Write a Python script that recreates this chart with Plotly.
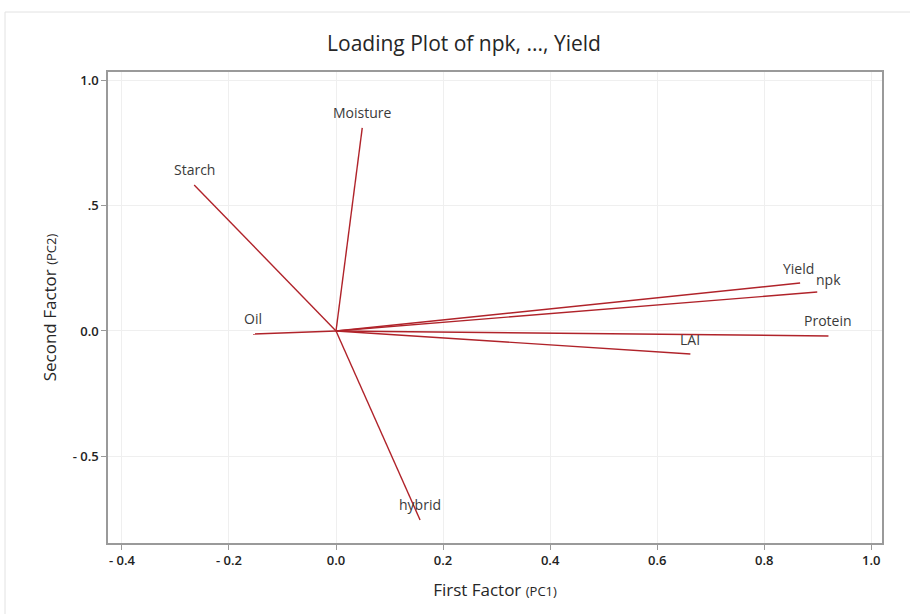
import plotly.graph_objects as go

variables = ["npk", "hybrid", "Moisture", "Oil", "Protein", "Starch", "LAI", "Yield"]
pc1 = [0.899, 0.157, 0.049, -0.155, 0.920, -0.265, 0.662, 0.867]
pc2 = [0.155, -0.753, 0.809, -0.012, -0.020, 0.582, -0.092, 0.191]
label_dx = [11, 0, 0, 0, 0, 0, 0, -2]
label_dy = [13, 15, 15, 15, 15, 15, 15, 15]

x_tickvals = [-0.4, -0.2, 0.0, 0.2, 0.4, 0.6, 0.8, 1.0]
x_ticktext = ["- 0.4", "- 0.2", "0.0", "0.2", "0.4", "0.6", "0.8", "1.0"]
y_tickvals = [-0.5, 0.0, 0.5, 1.0]
y_ticktext = ["- 0.5", "0.0", ".5", "1.0"]

W, H = 910, 614
L, R, T, B = 108, 882, 72, 543
line_color = "#b0232a"

fig = go.Figure()
for name, x, y in zip(variables, pc1, pc2):
    fig.add_trace(go.Scatter(x=[0, x], y=[0, y], mode="lines",
                             line=dict(color=line_color, width=1.4),
                             hoverinfo="skip", showlegend=False))

annotations = []
for name, x, y, dx, dy in zip(variables, pc1, pc2, label_dx, label_dy):
    annotations.append(dict(x=x, y=y, xref="x", yref="y", text=name, showarrow=False,
                            xanchor="center", yanchor="middle", xshift=dx, yshift=dy,
                            font=dict(family="Open Sans", size=14, color="#3a3a3a")))

def px_to_paper_x(p):
    return (p - L) / (R - L)

def px_to_paper_y(p):
    return (B - p) / (B - T)

fig.update_layout(
    width=W, height=H,
    margin=dict(l=L, r=W - R, t=T, b=H - B),
    paper_bgcolor="white", plot_bgcolor="white",
    title=dict(text="Loading Plot of npk, ..., Yield", x=464 / W,
               xanchor="center", y=1 - 44 / H, yanchor="middle",
               font=dict(family="Open Sans", size=21, color="#262626", weight=500)),
    font=dict(family="Open Sans", color="#333333"),
    annotations=annotations,
    shapes=[
        dict(type="line", xref="paper", yref="paper",
             x0=px_to_paper_x(5), x1=px_to_paper_x(910), y0=px_to_paper_y(12), y1=px_to_paper_y(12),
             line=dict(color="#e2e2e2", width=1)),
        dict(type="line", xref="paper", yref="paper",
             x0=px_to_paper_x(5), x1=px_to_paper_x(5), y0=px_to_paper_y(12), y1=px_to_paper_y(614),
             line=dict(color="#e2e2e2", width=1)),
    ],
)

tickfont = dict(family="Open Sans", size=13, color="#222222", weight=600)
fig.update_xaxes(
    range=[-0.426, 1.02], tickvals=x_tickvals, ticktext=x_ticktext,
    showgrid=True, gridcolor="#efefef", gridwidth=1, zeroline=False,
    showline=True, linecolor="#9a9a9a", linewidth=1.5, mirror=True,
    ticks="outside", ticklen=5, tickcolor="#9a9a9a",
    tickfont=tickfont,
    title=dict(text="First Factor <span style='font-size:13px'>(PC1)</span>",
               font=dict(family="Open Sans", size=17, color="#262626", weight=500), standoff=16),
)
fig.update_yaxes(
    range=[-0.845, 1.032], tickvals=y_tickvals, ticktext=y_ticktext,
    showgrid=True, gridcolor="#efefef", gridwidth=1, zeroline=False,
    showline=True, linecolor="#9a9a9a", linewidth=1.5, mirror=True,
    ticks="outside", ticklen=5, tickcolor="#9a9a9a",
    tickfont=tickfont,
    title=dict(text="Second Factor <span style='font-size:13px'>(PC2)</span>",
               font=dict(family="Open Sans", size=17, color="#262626", weight=500), standoff=12),
)

fig.write_html("out.html")
